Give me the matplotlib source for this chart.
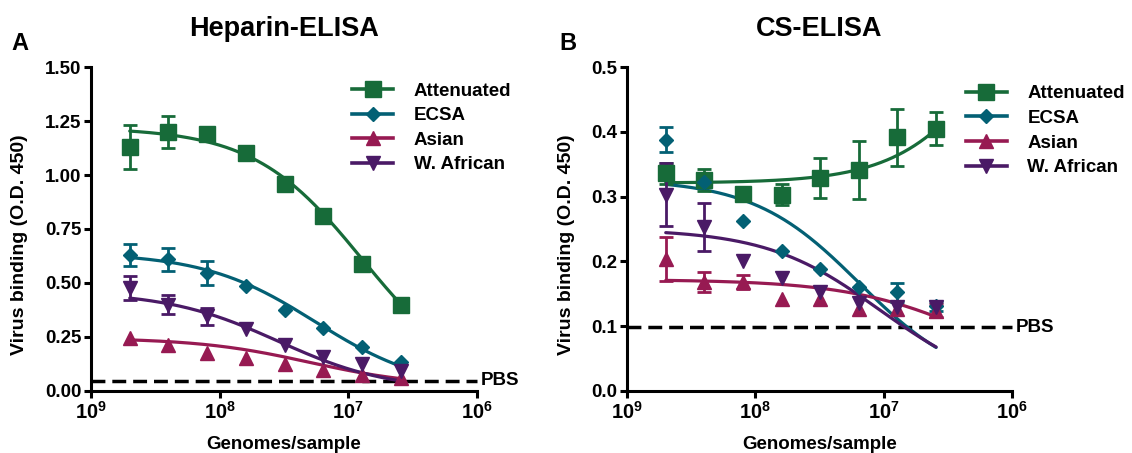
import numpy as np
import matplotlib
matplotlib.use("Agg")
import matplotlib.pyplot as plt
from matplotlib.lines import Line2D

plt.rcParams['font.family'] = ['Liberation Sans', 'DejaVu Sans']
plt.rcParams['font.weight'] = 'bold'
plt.rcParams['mathtext.fontset'] = 'custom'
plt.rcParams['mathtext.rm'] = 'Liberation Sans:bold'
plt.rcParams['mathtext.bf'] = 'Liberation Sans:bold'

# ---------------- data ----------------
genomes = [5e8, 2.5e8, 1.25e8, 6.25e7, 3.125e7, 1.5625e7, 7.8125e6, 3.90625e6]
series_names = ["Attenuated", "ECSA", "Asian", "W. African"]
colors = ["#176b39", "#036074", "#971a52", "#4a1a66"]
markers = ["s", "D", "^", "v"]
msizes = [11, 7.5, 9.5, 9.5]

xticks = [1e9, 1e8, 1e7, 1e6]
xtick_labels = [r"$10^{9}$", r"$10^{8}$", r"$10^{7}$", r"$10^{6}$"]

# Panel A: Heparin-ELISA
hep_att = [1.13, 1.20, 1.19, 1.10, 0.96, 0.81, 0.59, 0.40]
hep_ecsa = [0.63, 0.61, 0.546, 0.484, 0.374, 0.293, 0.205, 0.135]
hep_asian = [0.245, 0.213, 0.178, 0.152, 0.124, 0.098, 0.073, 0.062]
hep_wafr = [0.477, 0.40, 0.346, 0.285, 0.211, 0.158, 0.126, 0.092]
hep_att_err = [0.10, 0.075, 0.03, 0, 0, 0.03, 0.025, 0]
hep_ecsa_err = [0.052, 0.053, 0.055, 0, 0, 0, 0, 0]
hep_asian_err = [0, 0, 0, 0, 0, 0, 0, 0]
hep_wafr_err = [0.055, 0.045, 0.04, 0, 0, 0, 0, 0]
# fitted 4PL curve parameters: value at high dose, value at low dose, EC50, Hill slope
hep_att_fit = [1.22, 0.0, 7.8e6, 1.03]
hep_ecsa_fit = [0.64, 0.0, 1.8e7, 1.0]
hep_asian_fit = [0.245, 0.02, 2.0e7, 1.0]
hep_wafr_fit = [0.46, 0.0, 3.5e7, 1.0]
hep_pbs = 0.047

# Panel B: CS-ELISA
cs_att = [0.336, 0.325, 0.304, 0.303, 0.329, 0.341, 0.392, 0.405]
cs_ecsa = [0.388, 0.322, 0.262, 0.216, 0.188, 0.160, 0.152, 0.131]
cs_asian = [0.203, 0.168, 0.168, 0.142, 0.142, 0.127, 0.127, 0.124]
cs_wafr = [0.303, 0.253, 0.200, 0.175, 0.152, 0.135, 0.129, 0.130]
cs_att_err = [0.016, 0.017, 0, 0.016, 0.031, 0.045, 0.044, 0.025]
cs_ecsa_err = [0.019, 0, 0, 0, 0, 0, 0.015, 0.007]
cs_asian_err = [0.034, 0.015, 0.011, 0, 0, 0, 0, 0.01]
cs_wafr_err = [0.049, 0.037, 0, 0, 0, 0, 0, 0]
cs_att_fit = [0.321, 0.775, 1.0e6, 1.1]
cs_ecsa_fit = [0.327, 0.006, 1.55e7, 1.05]
cs_asian_fit = [0.172, 0.0, 1.76e6, 0.86]
cs_wafr_fit = [0.25, 0.0, 1.07e7, 0.98]
cs_pbs = 0.098


def logistic(x, p):
    hi, lo, ec50, h = p
    return lo + (hi - lo) / (1.0 + (ec50 / x) ** h)


def draw_panel(ax, vals, errs, fits, pbs, ylim, yticks, yticklabels, title,
               letter, letter_x, leg_xy, ylab_x):
    xs = np.array(genomes)
    xfine = np.geomspace(xs.min(), xs.max(), 300)
    for i in range(4):
        c = colors[i]
        y = np.array(vals[i])
        e = np.array(errs[i])
        ax.plot(xfine, logistic(xfine, fits[i]), color=c, lw=2.3, zorder=3,
                solid_capstyle='round')
        m = e > 0
        if m.any():
            ax.errorbar(xs[m], y[m], yerr=e[m], fmt='none', ecolor=c,
                        elinewidth=2.0, capsize=5, capthick=2.0, zorder=4)
        ax.plot(xs, y, linestyle='none', marker=markers[i], ms=msizes[i],
                color=c, mec=c, zorder=5)
    ax.plot([1e9, 1e6], [pbs, pbs], color='black', lw=2.5,
            dashes=(4, 2), zorder=2, clip_on=False)
    ax.text(9.3e5, pbs, "PBS", ha='left', va='center', fontsize=13.5,
            fontweight='bold')
    ax.set_xscale('log')
    ax.set_xlim(1e9, 1e6)
    ax.set_ylim(*ylim)
    ax.set_xticks(xticks)
    ax.set_xticklabels(xtick_labels)
    ax.xaxis.set_minor_locator(matplotlib.ticker.NullLocator())
    ax.set_yticks(yticks)
    ax.set_yticklabels(yticklabels)
    for s in ['top', 'right']:
        ax.spines[s].set_visible(False)
    for s in ['left', 'bottom']:
        ax.spines[s].set_linewidth(2.2)
    ax.tick_params(axis='both', width=2.2, length=5, labelsize=13.5,
                   direction='out', pad=2)
    ax.tick_params(axis='x', labelsize=14.5)
    ax.set_xlabel("Genomes/sample", fontsize=13.5, fontweight='bold',
                  labelpad=10)
    ax.set_ylabel("Virus binding (O.D. 450)", fontsize=14, fontweight='bold')
    ax.yaxis.set_label_coords(ylab_x, 0.45)
    ax.set_title(title, fontsize=19.5, fontweight='bold', pad=22)
    fig.text(letter_x, 0.905, letter, fontsize=17, fontweight='bold',
             ha='left', va='center')
    handles = [Line2D([0], [0], color=colors[i], lw=2.6, marker=markers[i],
                      ms=msizes[i], mec=colors[i]) for i in range(4)]
    ax.legend(handles, series_names, loc='upper left', bbox_to_anchor=leg_xy,
              bbox_transform=fig.transFigure, frameon=False, fontsize=13.5,
              handlelength=2.2, handletextpad=1.1, labelspacing=0.4,
              borderaxespad=0, borderpad=0)


fig = plt.figure(figsize=(11.32, 4.53), dpi=100)
axA = fig.add_axes([0.0804, 0.137, 0.341, 0.715])
axB = fig.add_axes([0.554, 0.137, 0.340, 0.715])

draw_panel(axA,
           [hep_att, hep_ecsa, hep_asian, hep_wafr],
           [hep_att_err, hep_ecsa_err, hep_asian_err, hep_wafr_err],
           [hep_att_fit, hep_ecsa_fit, hep_asian_fit, hep_wafr_fit],
           hep_pbs, (0, 1.5), [0, 0.25, 0.5, 0.75, 1.0, 1.25, 1.5],
           ["0.00", "0.25", "0.50", "0.75", "1.00", "1.25", "1.50"],
           "Heparin-ELISA", "A", 0.010, (0.311, 0.818), -0.163)

draw_panel(axB,
           [cs_att, cs_ecsa, cs_asian, cs_wafr],
           [cs_att_err, cs_ecsa_err, cs_asian_err, cs_wafr_err],
           [cs_att_fit, cs_ecsa_fit, cs_asian_fit, cs_wafr_fit],
           cs_pbs, (0, 0.5), [0, 0.1, 0.2, 0.3, 0.4, 0.5],
           ["0.0", "0.1", "0.2", "0.3", "0.4", "0.5"],
           "CS-ELISA", "B", 0.494, (0.853, 0.812), -0.135)

fig.savefig("out.png", dpi=100)
